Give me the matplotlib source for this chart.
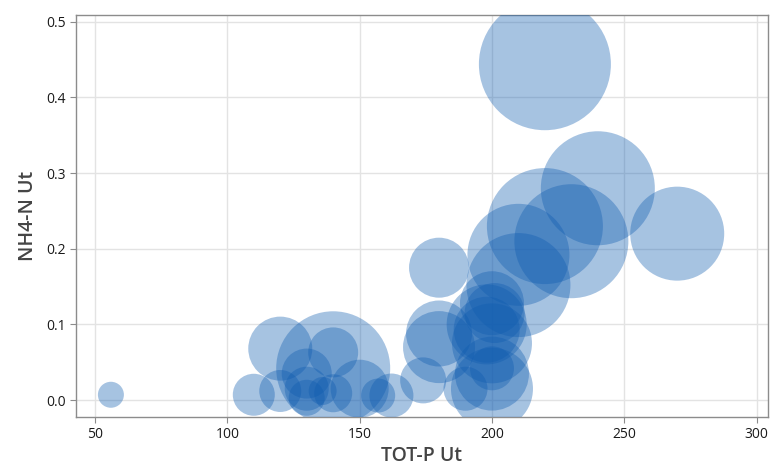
import numpy as np
import matplotlib.pyplot as plt

# TOT-P Ut (x), NH4-N Ut (y) and bubble radius (px)
tot_p = [56, 110, 120, 120, 130, 130, 130, 136, 140, 140, 140, 150, 157, 162,
         174, 180, 180, 180, 190, 198, 200, 200, 200, 200, 201, 200, 198,
         210, 210, 220, 230, 240, 270, 220]
nh4_n = [0.007, 0.007, 0.068, 0.012, 0.035, 0.015, 0.003, 0.012, 0.042, 0.063,
         0.009, 0.015, 0.006, 0.006, 0.026, 0.175, 0.088, 0.070, 0.015, 0.093,
         0.035, 0.015, 0.042, 0.075, 0.115, 0.128, 0.100, 0.192, 0.152, 0.230,
         0.210, 0.280, 0.220, 0.444]
radius = [13, 21, 32, 21, 25, 22, 18, 14, 57, 25, 19, 29, 17, 22,
          23, 30, 33, 36, 22, 33, 37, 41, 22, 40, 30, 32, 40,
          51, 52, 58, 57, 57, 47, 66]

x_ticks = [50, 100, 150, 200, 250, 300]
y_ticks = [0.0, 0.1, 0.2, 0.3, 0.4, 0.5]

plt.rcParams['font.family'] = ['Open Sans', 'DejaVu Sans']

fig = plt.figure(figsize=(7.72, 4.70), dpi=100)
ax = fig.add_axes([0.0984, 0.1134, 0.8964, 0.8546])

# radius in px -> marker area in pt^2 (1 px = 0.72 pt at 100 dpi)
sizes = (2 * np.array(radius) * 0.72) ** 2
ax.scatter(tot_p, nh4_n, s=sizes, color='#0f5cb0', alpha=0.37,
           edgecolors='none', zorder=3)

ax.set_xlim(42.8, 304.3)
ax.set_ylim(-0.022, 0.509)
ax.set_xticks(x_ticks)
ax.set_yticks(y_ticks)
ax.set_yticklabels(['%.1f' % v for v in y_ticks])

ax.grid(True, color='#e3e3e3', linewidth=1, zorder=0)
ax.set_axisbelow(True)
for s in ax.spines.values():
    s.set_color('#8c8c8c')
    s.set_linewidth(1)
ax.tick_params(length=4, color='#8c8c8c', labelsize=10, labelcolor='#1a1a1a')

ax.set_xlabel('TOT-P Ut', fontsize=14, color='#444444', fontweight='semibold',
              labelpad=3)
ax.set_ylabel('NH4-N Ut', fontsize=14, color='#444444', fontweight='semibold',
              labelpad=6)

fig.savefig('out.png', dpi=100)
